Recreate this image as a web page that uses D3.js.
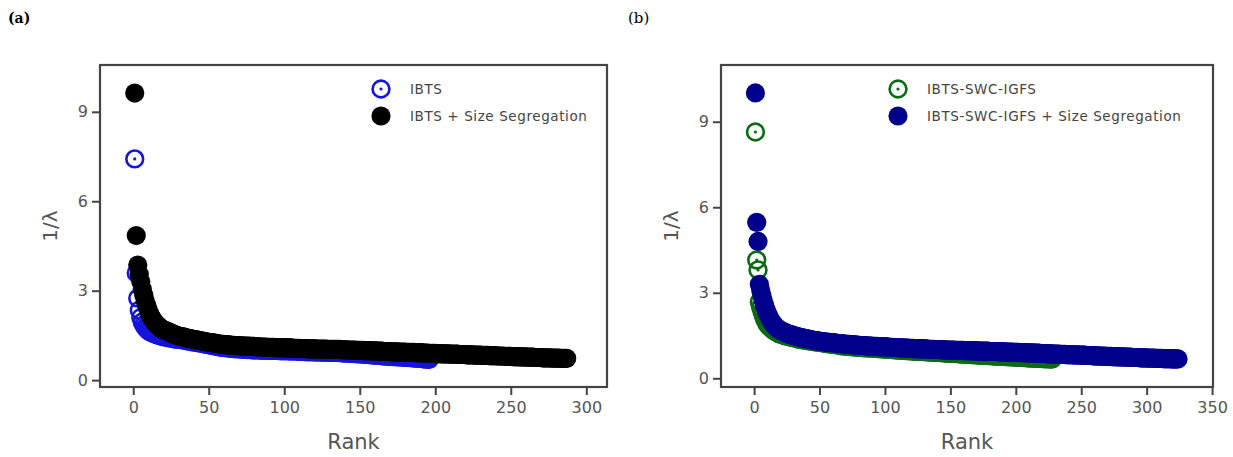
<!DOCTYPE html>
<html>
<head>
<meta charset="utf-8">
<script src="https://cdn.jsdelivr.net/npm/d3@7"></script>
<style>
  body { margin: 0; background: #fff; }
  svg { display: block; }
  .tick text { font-family: "DejaVu Sans", Verdana, sans-serif; font-size: 16px; fill: #555; }
  .tick line { stroke: #444; stroke-width: 2; }
</style>
</head>
<body>
<script>
const width = 1233;
const height = 457;

// panel (a) : IBTS
const ibts = [
  7.42, 3.59, 2.75, 2.35, 2.10, 1.95, 1.85, 1.77, 1.71, 1.66,
  1.63, 1.60, 1.58, 1.56, 1.54, 1.52, 1.50, 1.49, 1.47, 1.46,
  1.45, 1.44, 1.43, 1.42, 1.41, 1.40, 1.39, 1.38, 1.38, 1.37,
  1.37, 1.36, 1.35, 1.34, 1.33, 1.32, 1.31, 1.30, 1.29, 1.29,
  1.28, 1.27, 1.26, 1.25, 1.24, 1.23, 1.22, 1.21, 1.20, 1.19,
  1.18, 1.17, 1.16, 1.15, 1.14, 1.13, 1.12, 1.11, 1.10, 1.10,
  1.09, 1.09, 1.08, 1.08, 1.07, 1.07, 1.06, 1.06, 1.06, 1.05,
  1.05, 1.04, 1.04, 1.04, 1.03, 1.03, 1.03, 1.03, 1.02, 1.02,
  1.02, 1.02, 1.02, 1.01, 1.01, 1.01, 1.01, 1.01, 1.01, 1.00,
  1.00, 1.00, 1.00, 1.00, 1.00, 1.00, 0.99, 0.99, 0.99, 0.99,
  0.99, 0.99, 0.98, 0.98, 0.98, 0.98, 0.98, 0.98, 0.97, 0.97,
  0.97, 0.97, 0.97, 0.96, 0.96, 0.96, 0.96, 0.96, 0.96, 0.95,
  0.95, 0.95, 0.95, 0.95, 0.94, 0.94, 0.94, 0.94, 0.94, 0.94,
  0.93, 0.93, 0.93, 0.93, 0.93, 0.93, 0.93, 0.92, 0.92, 0.92,
  0.91, 0.91, 0.91, 0.90, 0.90, 0.90, 0.89, 0.89, 0.89, 0.88,
  0.88, 0.88, 0.87, 0.87, 0.87, 0.86, 0.86, 0.85, 0.85, 0.84,
  0.84, 0.84, 0.83, 0.83, 0.82, 0.82, 0.82, 0.81, 0.81, 0.80,
  0.80, 0.80, 0.79, 0.79, 0.79, 0.78, 0.78, 0.78, 0.77, 0.77,
  0.77, 0.76, 0.76, 0.76, 0.75, 0.75, 0.74, 0.74, 0.74, 0.73,
  0.73, 0.72, 0.72, 0.71, 0.71, 0.70
];

// panel (a) : IBTS + Size Segregation
const ibtsSeg = [
  9.63, 4.85, 3.86, 3.55, 3.30, 3.05, 2.85, 2.65, 2.50, 2.35,
  2.22, 2.12, 2.03, 1.96, 1.90, 1.84, 1.80, 1.76, 1.72, 1.69,
  1.67, 1.65, 1.63, 1.61, 1.58, 1.56, 1.54, 1.52, 1.50, 1.48,
  1.47, 1.46, 1.45, 1.44, 1.42, 1.41, 1.40, 1.39, 1.38, 1.37,
  1.36, 1.35, 1.34, 1.33, 1.32, 1.31, 1.30, 1.29, 1.28, 1.27,
  1.26, 1.26, 1.25, 1.24, 1.23, 1.22, 1.21, 1.21, 1.20, 1.20,
  1.19, 1.19, 1.18, 1.18, 1.17, 1.17, 1.17, 1.16, 1.16, 1.16,
  1.15, 1.15, 1.15, 1.14, 1.14, 1.14, 1.14, 1.13, 1.13, 1.13,
  1.12, 1.12, 1.12, 1.12, 1.11, 1.11, 1.11, 1.11, 1.10, 1.10,
  1.10, 1.10, 1.10, 1.09, 1.09, 1.09, 1.09, 1.09, 1.09, 1.09,
  1.08, 1.08, 1.08, 1.08, 1.08, 1.07, 1.07, 1.07, 1.07, 1.07,
  1.06, 1.06, 1.06, 1.06, 1.06, 1.05, 1.05, 1.05, 1.05, 1.05,
  1.05, 1.04, 1.04, 1.04, 1.04, 1.04, 1.04, 1.04, 1.03, 1.03,
  1.03, 1.03, 1.03, 1.03, 1.03, 1.03, 1.03, 1.02, 1.02, 1.02,
  1.02, 1.02, 1.01, 1.01, 1.01, 1.01, 1.01, 1.00, 1.00, 1.00,
  1.00, 1.00, 0.99, 0.99, 0.99, 0.99, 0.99, 0.98, 0.98, 0.98,
  0.98, 0.97, 0.97, 0.97, 0.97, 0.96, 0.96, 0.96, 0.96, 0.96,
  0.95, 0.95, 0.95, 0.95, 0.95, 0.94, 0.94, 0.94, 0.94, 0.94,
  0.93, 0.93, 0.93, 0.93, 0.93, 0.93, 0.92, 0.92, 0.92, 0.92,
  0.92, 0.91, 0.91, 0.91, 0.91, 0.90, 0.90, 0.90, 0.90, 0.90,
  0.89, 0.89, 0.89, 0.89, 0.88, 0.88, 0.88, 0.88, 0.88, 0.87,
  0.87, 0.87, 0.87, 0.87, 0.87, 0.86, 0.86, 0.86, 0.86, 0.86,
  0.85, 0.85, 0.85, 0.85, 0.85, 0.84, 0.84, 0.84, 0.84, 0.84,
  0.83, 0.83, 0.83, 0.83, 0.83, 0.82, 0.82, 0.82, 0.82, 0.82,
  0.81, 0.81, 0.81, 0.81, 0.81, 0.80, 0.80, 0.80, 0.80, 0.80,
  0.79, 0.79, 0.79, 0.79, 0.79, 0.78, 0.78, 0.78, 0.78, 0.78,
  0.77, 0.77, 0.77, 0.77, 0.77, 0.76, 0.76, 0.76, 0.76, 0.76,
  0.75, 0.75, 0.75, 0.75, 0.75, 0.75, 0.74, 0.74, 0.74, 0.74,
  0.74, 0.74, 0.73, 0.73, 0.73, 0.73, 0.73
];

// panel (b) : IBTS-SWC-IGFS
const swc = [
  8.64, 4.15, 3.80, 2.68, 2.50, 2.35, 2.20, 2.08, 1.98, 1.90,
  1.85, 1.80, 1.76, 1.72, 1.68, 1.65, 1.62, 1.60, 1.57, 1.55,
  1.54, 1.52, 1.51, 1.49, 1.48, 1.47, 1.46, 1.45, 1.44, 1.43,
  1.42, 1.41, 1.39, 1.38, 1.37, 1.36, 1.36, 1.35, 1.34, 1.33,
  1.32, 1.32, 1.31, 1.30, 1.30, 1.29, 1.28, 1.28, 1.27, 1.26,
  1.26, 1.25, 1.24, 1.24, 1.23, 1.22, 1.22, 1.21, 1.20, 1.20,
  1.19, 1.19, 1.18, 1.17, 1.16, 1.15, 1.15, 1.14, 1.14, 1.13,
  1.13, 1.12, 1.12, 1.11, 1.11, 1.11, 1.10, 1.10, 1.10, 1.09,
  1.09, 1.09, 1.08, 1.08, 1.08, 1.07, 1.07, 1.07, 1.06, 1.06,
  1.06, 1.05, 1.05, 1.05, 1.04, 1.04, 1.04, 1.04, 1.03, 1.03,
  1.03, 1.02, 1.02, 1.02, 1.01, 1.01, 1.01, 1.00, 1.00, 1.00,
  0.99, 0.99, 0.99, 0.98, 0.98, 0.98, 0.97, 0.97, 0.97, 0.97,
  0.96, 0.96, 0.96, 0.96, 0.95, 0.95, 0.95, 0.94, 0.94, 0.94,
  0.94, 0.93, 0.93, 0.93, 0.93, 0.92, 0.92, 0.92, 0.91, 0.91,
  0.91, 0.91, 0.90, 0.90, 0.90, 0.89, 0.89, 0.89, 0.89, 0.88,
  0.88, 0.88, 0.87, 0.87, 0.87, 0.87, 0.86, 0.86, 0.86, 0.85,
  0.85, 0.85, 0.85, 0.84, 0.84, 0.84, 0.83, 0.83, 0.83, 0.83,
  0.82, 0.82, 0.82, 0.81, 0.81, 0.81, 0.81, 0.80, 0.80, 0.80,
  0.80, 0.79, 0.79, 0.79, 0.78, 0.78, 0.78, 0.78, 0.77, 0.77,
  0.77, 0.77, 0.76, 0.76, 0.76, 0.76, 0.75, 0.75, 0.75, 0.75,
  0.74, 0.74, 0.74, 0.74, 0.73, 0.73, 0.73, 0.73, 0.72, 0.72,
  0.72, 0.72, 0.71, 0.71, 0.71, 0.71, 0.70, 0.70, 0.70, 0.70,
  0.69, 0.69, 0.69, 0.69, 0.68, 0.68, 0.68, 0.68
];

// panel (b) : IBTS-SWC-IGFS + Size Segregation
const swcSeg = [
  10.01, 5.47, 4.80, 3.30, 3.10, 2.90, 2.72, 2.56, 2.42, 2.30,
  2.20, 2.10, 2.02, 1.95, 1.89, 1.84, 1.79, 1.75, 1.72, 1.69,
  1.66, 1.64, 1.62, 1.60, 1.58, 1.56, 1.54, 1.53, 1.52, 1.50,
  1.49, 1.48, 1.46, 1.45, 1.44, 1.43, 1.42, 1.41, 1.40, 1.39,
  1.38, 1.37, 1.36, 1.35, 1.34, 1.33, 1.32, 1.32, 1.31, 1.30,
  1.30, 1.29, 1.28, 1.28, 1.27, 1.27, 1.26, 1.26, 1.25, 1.25,
  1.24, 1.24, 1.23, 1.23, 1.22, 1.22, 1.21, 1.21, 1.20, 1.20,
  1.19, 1.19, 1.19, 1.18, 1.18, 1.17, 1.17, 1.17, 1.16, 1.16,
  1.16, 1.15, 1.15, 1.15, 1.14, 1.14, 1.14, 1.13, 1.13, 1.13,
  1.12, 1.12, 1.12, 1.12, 1.11, 1.11, 1.11, 1.11, 1.10, 1.10,
  1.10, 1.10, 1.09, 1.09, 1.09, 1.09, 1.08, 1.08, 1.08, 1.08,
  1.07, 1.07, 1.07, 1.07, 1.06, 1.06, 1.06, 1.06, 1.05, 1.05,
  1.05, 1.05, 1.04, 1.04, 1.04, 1.04, 1.04, 1.03, 1.03, 1.03,
  1.03, 1.03, 1.02, 1.02, 1.02, 1.02, 1.02, 1.01, 1.01, 1.01,
  1.01, 1.01, 1.00, 1.00, 1.00, 1.00, 1.00, 0.99, 0.99, 0.99,
  0.99, 0.99, 0.99, 0.98, 0.98, 0.98, 0.98, 0.98, 0.98, 0.98,
  0.97, 0.97, 0.97, 0.97, 0.97, 0.97, 0.96, 0.96, 0.96, 0.96,
  0.96, 0.96, 0.95, 0.95, 0.95, 0.95, 0.95, 0.95, 0.95, 0.94,
  0.94, 0.94, 0.94, 0.94, 0.94, 0.94, 0.93, 0.93, 0.93, 0.93,
  0.93, 0.93, 0.92, 0.92, 0.92, 0.92, 0.92, 0.91, 0.91, 0.91,
  0.91, 0.91, 0.90, 0.90, 0.90, 0.90, 0.90, 0.89, 0.89, 0.89,
  0.89, 0.89, 0.89, 0.88, 0.88, 0.88, 0.88, 0.88, 0.87, 0.87,
  0.87, 0.87, 0.87, 0.86, 0.86, 0.86, 0.86, 0.86, 0.85, 0.85,
  0.85, 0.85, 0.85, 0.84, 0.84, 0.84, 0.84, 0.84, 0.83, 0.83,
  0.83, 0.83, 0.83, 0.82, 0.82, 0.82, 0.82, 0.82, 0.81, 0.81,
  0.81, 0.81, 0.81, 0.80, 0.80, 0.80, 0.80, 0.80, 0.79, 0.79,
  0.79, 0.79, 0.79, 0.78, 0.78, 0.78, 0.78, 0.78, 0.77, 0.77,
  0.77, 0.77, 0.77, 0.76, 0.76, 0.76, 0.76, 0.76, 0.75, 0.75,
  0.75, 0.75, 0.75, 0.74, 0.74, 0.74, 0.74, 0.74, 0.73, 0.73,
  0.73, 0.73, 0.73, 0.73, 0.72, 0.72, 0.72, 0.72, 0.72, 0.72,
  0.71, 0.71, 0.71, 0.71, 0.71, 0.71, 0.70, 0.70, 0.70, 0.70,
  0.70, 0.70, 0.69, 0.69, 0.69, 0.69, 0.69, 0.69, 0.68, 0.68,
  0.68, 0.68, 0.68, 0.68
];

const yTicks = [0, 3, 6, 9];
const xTicksA = [0, 50, 100, 150, 200, 250, 300];
const xTicksB = [0, 50, 100, 150, 200, 250, 300, 350];

const svg = d3.select("body")
    .append("svg")
    .attr("width", width)
    .attr("height", height);

// panel letters
svg.append("text")
    .attr("x", 8).attr("y", 23)
    .style("font-family", "'DejaVu Serif', serif")
    .style("font-weight", "bold")
    .style("font-size", "14px")
    .text("(a)");

svg.append("text")
    .attr("x", 628).attr("y", 23)
    .style("font-family", "'DejaVu Serif', serif")
    .style("font-size", "15px")
    .text("(b)");

function drawPanel(opt) {
    const x = d3.scaleLinear().domain(opt.xDomain).range([opt.left, opt.right]);
    const y = d3.scaleLinear().domain(opt.yDomain).range([opt.bottom, opt.top]);

    const g = svg.append("g");

    const clip = "clip-" + opt.id;
    g.append("clipPath").attr("id", clip)
        .append("rect")
        .attr("x", opt.left).attr("y", opt.top)
        .attr("width", opt.right - opt.left)
        .attr("height", opt.bottom - opt.top);

    const pts = g.append("g").attr("clip-path", `url(#${clip})`);

    const open = opt.openSeries.map((v, i) => ({ rank: i + 1, v }));
    const filled = opt.filledSeries.map((v, i) => ({ rank: i + 1, v }));

    // hollow series first, filled series drawn over it
    pts.selectAll("circle.open")
        .data(open)
        .join("circle")
        .attr("class", "open")
        .attr("cx", d => x(d.rank))
        .attr("cy", d => y(d.v))
        .attr("r", 8.4)
        .attr("fill", "none")
        .attr("stroke", opt.openColor)
        .attr("stroke-width", 2.6);

    pts.selectAll("circle.dot")
        .data(open)
        .join("circle")
        .attr("class", "dot")
        .attr("cx", d => x(d.rank))
        .attr("cy", d => y(d.v))
        .attr("r", 1.6)
        .attr("fill", opt.openColor);

    pts.selectAll("circle.filled")
        .data(filled)
        .join("circle")
        .attr("class", "filled")
        .attr("cx", d => x(d.rank))
        .attr("cy", d => y(d.v))
        .attr("r", 9.6)
        .attr("fill", opt.filledColor);

    // axes
    const xAxis = g.append("g")
        .attr("transform", `translate(0,${opt.bottom})`)
        .call(d3.axisBottom(x).tickValues(opt.xTicks).tickSize(8).tickSizeOuter(0).tickPadding(7));
    xAxis.select(".domain").remove();

    const yAxis = g.append("g")
        .attr("transform", `translate(${opt.left},0)`)
        .call(d3.axisLeft(y).tickValues(yTicks).tickSize(8).tickSizeOuter(0).tickPadding(4));
    yAxis.select(".domain").remove();

    // frame
    g.append("rect")
        .attr("x", opt.left).attr("y", opt.top)
        .attr("width", opt.right - opt.left)
        .attr("height", opt.bottom - opt.top)
        .attr("fill", "none")
        .attr("stroke", "#444")
        .attr("stroke-width", 2.2);

    // axis titles
    g.append("text")
        .attr("x", (opt.left + opt.right) / 2)
        .attr("y", 449)
        .attr("text-anchor", "middle")
        .style("font-family", "'DejaVu Sans', Verdana, sans-serif")
        .style("font-size", "21px")
        .style("fill", "#555")
        .text("Rank");

    g.append("text")
        .attr("transform", `translate(${opt.left - 43},${(opt.top + opt.bottom) / 2}) rotate(-90)`)
        .attr("text-anchor", "middle")
        .style("font-family", "'DejaVu Sans', Verdana, sans-serif")
        .style("font-size", "20px")
        .style("fill", "#555")
        .text("1/λ");

    // legend
    const leg = g.append("g").attr("transform", `translate(${opt.legX},${opt.legY})`);
    leg.append("circle").attr("cx", 0).attr("cy", 0).attr("r", 8.4)
        .attr("fill", "none").attr("stroke", opt.openColor).attr("stroke-width", 2.6);
    leg.append("circle").attr("cx", 0).attr("cy", 0).attr("r", 1.6).attr("fill", opt.openColor);
    leg.append("circle").attr("cx", 0).attr("cy", 27).attr("r", 9.6).attr("fill", opt.filledColor);

    leg.selectAll("text")
        .data(opt.names)
        .join("text")
        .attr("x", 29)
        .attr("y", (d, i) => i * 27 + 5)
        .style("font-family", "'DejaVu Sans', Verdana, sans-serif")
        .style("font-size", "13.5px")
        .style("letter-spacing", "0.6px")
        .style("fill", "#444")
        .text(d => d);
}

drawPanel({
    id: "a",
    left: 100, right: 607, top: 65, bottom: 387,
    xDomain: [-22, 313.7],
    yDomain: [-0.23, 10.57],
    xTicks: xTicksA,
    openSeries: ibts,
    filledSeries: ibtsSeg,
    openColor: "#1414dc",
    filledColor: "#000",
    names: ["IBTS", "IBTS + Size Segregation"],
    legX: 381, legY: 89
});

drawPanel({
    id: "b",
    left: 721, right: 1213, top: 65, bottom: 387,
    xDomain: [-25.3, 350.7],
    yDomain: [-0.305, 10.99],
    xTicks: xTicksB,
    openSeries: swc,
    filledSeries: swcSeg,
    openColor: "#0b6b12",
    filledColor: "#00008b",
    names: ["IBTS-SWC-IGFS", "IBTS-SWC-IGFS + Size Segregation"],
    legX: 898, legY: 89
});
</script>
</body>
</html>
